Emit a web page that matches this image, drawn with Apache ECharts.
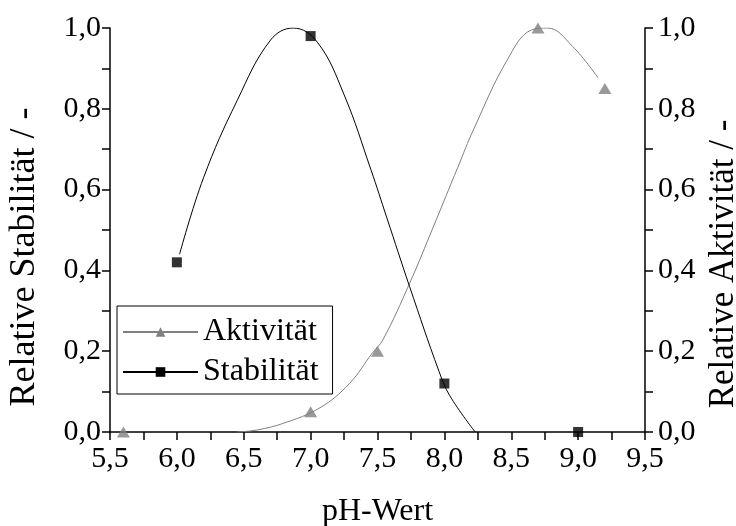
<!DOCTYPE html>
<html>
<head>
<meta charset="utf-8">
<script src="https://cdn.jsdelivr.net/npm/echarts@6/dist/echarts.min.js"></script>
<style>
  html, body { margin: 0; padding: 0; background: #fff; }
  #chart { width: 736px; height: 526px; }
</style>
</head>
<body>
<div id="chart"></div>
<script>
// measured points
const aktX = [5.6, 7.0, 7.5, 8.7, 9.2];
const aktY = [0.0, 0.05, 0.2, 1.0, 0.85];
const stabX = [6.0, 7.0, 8.0, 9.0];
const stabY = [0.42, 0.98, 0.12, 0.0];

// fitted curves
const aktFitX = [6.45, 6.6, 6.8, 7.07, 7.29, 7.46, 7.54, 7.74, 7.92, 8.1, 8.22, 8.47, 8.65, 8.77, 8.96, 9.15];
const aktFitY = [0.0, 0.005, 0.022, 0.06, 0.12, 0.195, 0.228, 0.368, 0.51, 0.655, 0.75, 0.921, 0.995, 1.0, 0.954, 0.876];
const stabFitX = [6.02, 6.2, 6.45, 6.7, 6.87, 7.05, 7.25, 7.45, 7.57, 7.74, 7.96, 8.04, 8.23];
const stabFitY = [0.44, 0.63, 0.82, 0.97, 1.0, 0.965, 0.835, 0.65, 0.53, 0.36, 0.15, 0.09, 0.0];

const xTicks = [5.5, 6.0, 6.5, 7.0, 7.5, 8.0, 8.5, 9.0, 9.5];

const pairs = (xs, ys) => xs.map((x, i) => [x, ys[i]]);
const comma = (v, d) => v.toFixed(d).replace(".", ",");

const FONT = "Liberation Serif";
const GRAY = "#808080";

const chart = echarts.init(document.getElementById("chart"));

const yAxisBase = {
  type: "value",
  min: 0,
  max: 1,
  interval: 0.2,
  splitLine: { show: false },
  axisLine: { show: true, lineStyle: { color: "#000", width: 1.5 } },
  axisTick: { show: true, inside: false, length: 8, lineStyle: { color: "#000", width: 1.5 } },
  minorTick: { show: true, splitNumber: 2, length: 8, lineStyle: { color: "#000", width: 1.5 } },
  axisLabel: { fontFamily: FONT, fontSize: 30, color: "#000", formatter: (v) => comma(v, 1) },
  nameLocation: "middle",
};

const option = {
  animation: false,
  backgroundColor: "#fff",
  grid: { left: 110, right: 91, top: 28, bottom: 94, outerBoundsMode: "none" },
  legend: {
    left: 117,
    top: 306,
    orient: "vertical",
    data: ["Aktivität", "Stabilität"],
    itemWidth: 75,
    itemHeight: 12,
    itemGap: 8,
    padding: [10, 14, 6, 5],
    borderColor: "#000",
    borderWidth: 1,
    textStyle: { fontFamily: FONT, fontSize: 32, color: "#000", lineHeight: 32 },
  },
  xAxis: {
    type: "value",
    min: 5.5,
    max: 9.5,
    interval: 0.5,
    name: "pH-Wert",
    nameLocation: "middle",
    nameGap: 64,
    nameTextStyle: { fontFamily: FONT, fontSize: 32, color: "#000" },
    splitLine: { show: false },
    axisLine: { onZero: false, lineStyle: { color: "#000", width: 1.5 } },
    axisTick: { length: 8, lineStyle: { color: "#000", width: 1.5 } },
    minorTick: { show: true, splitNumber: 2, length: 8, lineStyle: { color: "#000", width: 1.5 } },
    axisLabel: {
      fontFamily: FONT, fontSize: 30, color: "#000", margin: 12,
      formatter: (v) => (xTicks.includes(+v.toFixed(1)) ? comma(v, 1) : ""),
    },
  },
  yAxis: [
    Object.assign({}, yAxisBase, {
      position: "left",
      name: "Relative Stabilität / -",
      nameGap: 67,
      // padding on the text's right end pushes the rotated title down a little
      nameTextStyle: { fontFamily: FONT, fontSize: 36, color: "#000", padding: [0, 54, 0, 0] },
      axisLabel: Object.assign({}, yAxisBase.axisLabel, { margin: 9 }),
    }),
    Object.assign({}, yAxisBase, {
      position: "right",
      name: "Relative Aktivität / -",
      nameGap: 57,
      nameTextStyle: { fontFamily: FONT, fontSize: 35, color: "#000", padding: [0, 68, 0, 0] },
      axisLabel: Object.assign({}, yAxisBase.axisLabel, { margin: 13 }),
    }),
  ],
  series: [
    {
      name: "Aktivität",
      type: "line",
      yAxisIndex: 1,
      data: pairs(aktFitX, aktFitY),
      smooth: 0.4,
      showSymbol: false,
      symbol: "triangle",
      symbolSize: [13, 11],
      itemStyle: { color: GRAY },
      lineStyle: { color: GRAY, width: 1 },
      z: 2,
    },
    {
      name: "Stabilität",
      type: "line",
      data: pairs(stabFitX, stabFitY),
      smooth: 0.4,
      showSymbol: false,
      symbol: "rect",
      symbolSize: 10,
      itemStyle: { color: "#000" },
      lineStyle: { color: "#000", width: 1 },
      z: 2,
    },
    {
      name: "Aktivität Punkte",
      type: "scatter",
      yAxisIndex: 1,
      data: pairs(aktX, aktY),
      symbol: "triangle",
      symbolSize: [13, 11],
      itemStyle: { color: GRAY },
      clip: false,
      z: 3,
    },
    {
      name: "Stabilität Punkte",
      type: "scatter",
      data: pairs(stabX, stabY),
      symbol: "rect",
      symbolSize: 10,
      itemStyle: { color: "#000" },
      clip: false,
      z: 3,
    },
  ],
};

chart.setOption(option);
window.addEventListener("resize", () => chart.resize());
</script>
</body>
</html>
